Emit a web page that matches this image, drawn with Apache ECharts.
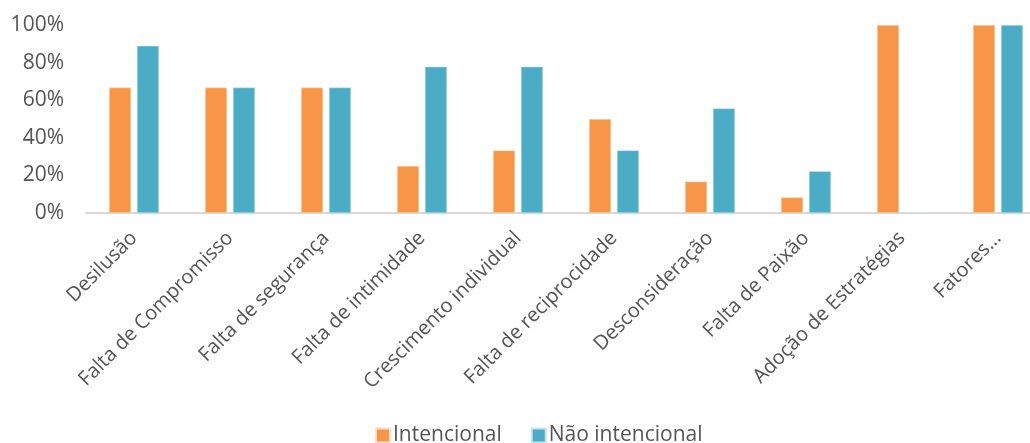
<!DOCTYPE html>
<html><head><meta charset="utf-8">
<script src="https://cdn.jsdelivr.net/npm/echarts@6/dist/echarts.min.js"></script>
<style>html,body{margin:0;padding:0;background:#fff;overflow:hidden;width:1030px;height:443px}#c{width:1046px;height:443px}</style>
</head><body><div id="c"></div>
<script>
const categories = ["Desilusão","Falta de Compromisso","Falta de segurança","Falta de intimidade","Crescimento individual","Falta de reciprocidade","Desconsideração","Falta de Paixão","Adoção de Estratégias","Fatores..."];
const intencional = [66.7,66.7,66.7,25,33.3,50,16.7,8.3,100,100];
const naoIntencional = [88.9,66.7,66.7,77.8,77.8,33.3,55.6,22.2,0,100];
const yTicks = [0,20,40,60,80,100];
const chart = echarts.init(document.getElementById('c'), null, {renderer:'canvas'});
const font = "'Open Sans'";
chart.setOption({
  animation:false,
  grid:{left:86, top:25, right:0, bottom:230, containLabel:false},
  legend:{top:420, left:370, itemWidth:14, itemHeight:14, itemGap:29,
    icon:'rect', textStyle:{fontFamily:font, fontSize:21, color:'#555555', padding:[0,0,0,-2]},
    data:['Intencional','Não intencional']},
  xAxis:{type:'category', data:categories,
    axisLine:{lineStyle:{color:'#d9d9d9', width:2}},
    axisTick:{show:false},
    axisLabel:{rotate:45, interval:0, fontFamily:font, fontSize:20, color:'#555555', margin:22}},
  yAxis:{type:'value', min:0, max:100, interval:20,
    axisLine:{show:false}, axisTick:{show:false}, splitLine:{show:false},
    axisLabel:{fontFamily:font, fontSize:21, color:'#555555', margin:22,
      formatter:v=>yTicks.includes(v)?v+'%':''}},
  series:[
    {name:'Intencional', type:'bar', data:intencional, barWidth:22, barGap:'27%',
      itemStyle:{color:'#F79646', borderColor:'#fde0c8', borderWidth:0.5}},
    {name:'Não intencional', type:'bar', data:naoIntencional, barWidth:22,
      itemStyle:{color:'#4BACC6', borderColor:'#c8e6ee', borderWidth:0.5}}
  ]
});
</script></body></html>
